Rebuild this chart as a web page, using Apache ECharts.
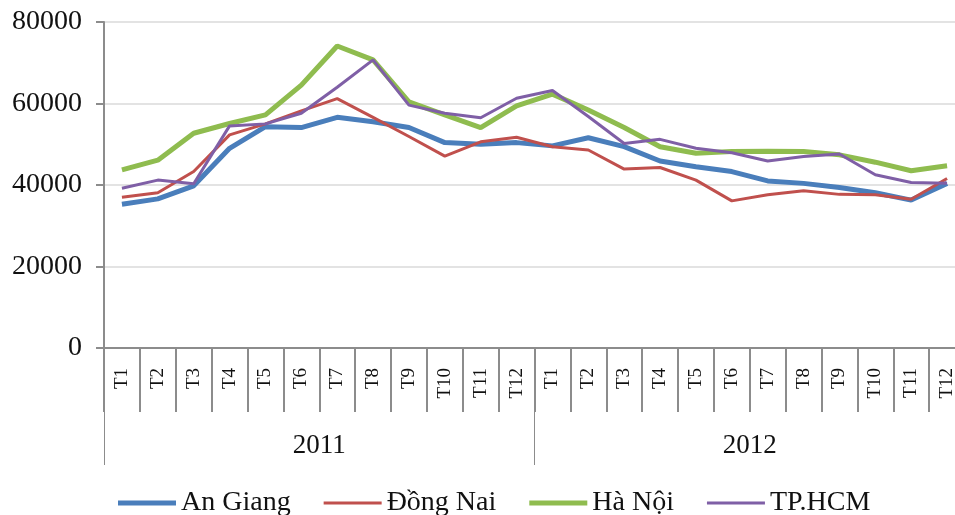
<!DOCTYPE html>
<html>
<head>
<meta charset="utf-8">
<script src="https://cdn.jsdelivr.net/npm/echarts@6/dist/echarts.min.js"></script>
<style>
  html, body { margin: 0; padding: 0; background: #fff; overflow: hidden; }
  /* biểu đồ gốc bị cắt ở mép phải, nên vẽ rộng hơn cửa sổ một chút */
  #chart { width: 965px; height: 515px; }
</style>
</head>
<body>
<div id="chart"></div>
<script>
// tháng và năm trên trục hoành
const months = ['T1', 'T2', 'T3', 'T4', 'T5', 'T6', 'T7', 'T8', 'T9', 'T10', 'T11', 'T12']
const years = ['2011', '2012']
const categories = months.concat(months)

// giá trị từng tỉnh
const anGiang = [35300, 36600, 39800, 49000, 54300, 54100, 56600, 55500, 54100, 50400, 50000, 50400,
  49600, 51600, 49400, 45900, 44500, 43300, 41000, 40400, 39400, 38100, 36300, 40400]
const dongNai = [37000, 38100, 43300, 52300, 55000, 58200, 61200, 56600, 51900, 47100, 50600, 51700,
  49400, 48600, 43900, 44300, 41200, 36100, 37600, 38600, 37700, 37600, 36500, 41600]
const haNoi = [43700, 46100, 52700, 55100, 57200, 64500, 74100, 70700, 60400, 57200, 54100, 59400,
  62300, 58400, 54100, 49400, 47800, 48200, 48300, 48200, 47400, 45600, 43500, 44700]
const tpHcm = [39200, 41200, 40300, 54500, 55000, 57600, 64000, 70700, 59600, 57600, 56500, 61300,
  63200, 56800, 50200, 51200, 49000, 47900, 45900, 47000, 47600, 42500, 40600, 40400]

const serif = '"Liberation Serif", "DejaVu Serif", serif'
const axisGray = '#8c8c8c'
const thick = 'path://M0,0H58V5H0Z'
const thin = 'path://M0,0H58V3H0Z'

const chart = echarts.init(document.getElementById('chart'))

const line = (name, data, color, width) => ({
  name,
  type: 'line',
  data,
  symbol: 'none',
  itemStyle: { color },
  lineStyle: { color, width }
})

chart.setOption({
  animation: false,
  grid: { left: 104, top: 22, right: 0, bottom: 167, containLabel: false },
  legend: {
    left: 113,
    top: 484,
    itemWidth: 58,
    itemHeight: 5,
    itemGap: 33,
    textStyle: { fontFamily: serif, fontSize: 28, color: '#111' },
    data: [
      { name: 'An Giang', icon: thick },
      { name: 'Đồng Nai', icon: thin },
      { name: 'Hà Nội', icon: thick },
      { name: 'TP.HCM', icon: thin }
    ]
  },
  xAxis: [
    {
      type: 'category',
      data: categories,
      boundaryGap: true,
      axisLine: { lineStyle: { color: axisGray, width: 2 } },
      axisTick: { show: true, length: 64, lineStyle: { color: axisGray, width: 2 } },
      axisLabel: {
        interval: 0,
        rotate: 90,
        margin: 20,
        fontFamily: serif,
        fontSize: 19,
        color: '#111'
      }
    },
    {
      type: 'category',
      data: years,
      position: 'bottom',
      boundaryGap: true,
      axisLine: { show: false },
      axisTick: { show: true, length: 117, lineStyle: { color: axisGray, width: 1 } },
      axisLabel: {
        margin: 84,
        fontFamily: serif,
        fontSize: 27,
        lineHeight: 27,
        color: '#111'
      }
    }
  ],
  yAxis: {
    type: 'value',
    min: 0,
    max: 80000,
    interval: 20000,
    axisLine: { show: true, lineStyle: { color: axisGray, width: 2 } },
    axisTick: { show: true, length: 8, lineStyle: { color: axisGray, width: 2 } },
    axisLabel: {
      margin: 22,
      fontFamily: serif,
      fontSize: 28,
      color: '#111',
      formatter: (v) => String(v)
    },
    splitLine: { lineStyle: { color: '#e3e3e3', width: 2 } }
  },
  series: [
    line('An Giang', anGiang, '#4a7ebb', 5),
    line('Đồng Nai', dongNai, '#c0504d', 3),
    line('Hà Nội', haNoi, '#8fbc4f', 5),
    line('TP.HCM', tpHcm, '#7f5fa6', 3)
  ]
})
</script>
</body>
</html>
